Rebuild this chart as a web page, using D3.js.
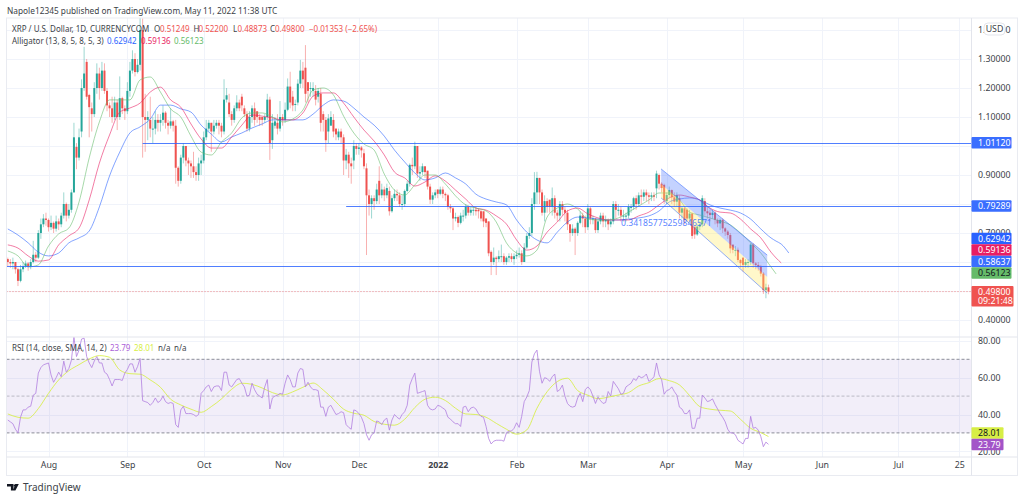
<!DOCTYPE html>
<html>
<head>
<meta charset="utf-8">
<script src="https://cdn.jsdelivr.net/npm/d3@7"></script>
<style>
  html, body { margin: 0; background: #fff; }
  svg { display: block; }
  text { font-family: "Noto Sans", sans-serif; }
</style>
</head>
<body>
<svg id="chart" width="1024" height="500"></svg>
<script>
// daily candles, 16 Jul 2021 to 11 May 2022
const firstDay = '2021-07-16'
const lastOnAxis = '2022-07-01'

const opens = [
  .610,.600,.595,.600,.575,.535,.575,.585,.595,.585,
  .600,.625,.615,.700,.730,.750,.745,.720,.735,.715,
  .740,.730,.760,.800,.760,.780,.840,.997,.960,1.05,
  1.20,1.29,1.176,1.13,1.11,1.20,1.25,1.20,1.26,1.19,
  1.14,1.13,1.10,1.15,1.10,1.165,1.13,1.12,1.19,1.26,
  1.30,1.255,1.28,1.40,1.10,1.09,1.09,1.06,1.06,1.09,
  1.08,1.09,1.115,1.08,1.07,1.085,1.07,.925,.88,.96,
  1.00,.95,.94,.93,.91,.90,.94,.95,1.03,1.06,
  1.08,1.05,1.07,1.08,1.07,1.05,1.16,1.15,1.11,1.09,
  1.13,1.15,1.17,1.13,1.11,1.06,1.10,1.13,1.12,1.10,
  1.10,1.09,1.10,1.16,1.02,1.07,1.08,1.06,1.10,1.09,
  1.125,1.205,1.17,1.145,1.15,1.215,1.26,1.27,1.22,1.20,
  1.19,1.19,1.17,1.18,1.11,1.09,1.05,1.07,1.09,1.06,
  1.03,1.05,1.03,.95,.97,.94,.95,1.00,.99,.995,
  .975,.923,.83,.80,.82,.81,.88,.83,.85,.83,
  .845,.775,.82,.835,.83,.80,.80,.845,.87,.935,
  .93,1.00,.905,.91,.93,.915,.86,.815,.83,.85,
  .835,.85,.835,.83,.79,.785,.75,.755,.735,.76,
  .76,.79,.77,.78,.78,.78,.775,.775,.75,.74,
  .635,.60,.615,.61,.62,.62,.60,.615,.62,.61,
  .62,.625,.63,.60,.65,.69,.70,.80,.84,.89,
  .84,.77,.81,.815,.79,.82,.77,.76,.80,.78,
  .77,.73,.70,.715,.70,.735,.76,.75,.72,.785,
  .75,.75,.71,.74,.76,.74,.745,.73,.74,.80,
  .78,.78,.76,.76,.76,.79,.79,.82,.80,.83,
  .825,.84,.83,.825,.83,.854,.90,.87,.866,.81,
  .831,.848,.823,.808,.82,.77,.785,.78,.75,.767,
  .722,.695,.722,.73,.81,.775,.77,.762,.77,.745,
  .733,.745,.716,.705,.693,.660,.642,.642,.607,.615,
  .59,.60,.60,.66,.595,.59,.584,.56,.503,.5125
]
const highs = [
  .615,.61,.615,.60,.58,.59,.60,.605,.60,.61,
  .673,.635,.71,.75,.765,.77,.75,.76,.74,.76,
  .75,.77,.84,.805,.80,.85,1.08,1.01,1.06,1.23,
  1.342,1.30,1.18,1.15,1.22,1.285,1.27,1.29,1.285,1.20,
  1.15,1.17,1.17,1.16,1.24,1.17,1.14,1.22,1.29,1.33,
  1.32,1.30,1.45,1.44,1.18,1.12,1.17,1.10,1.12,1.11,
  1.11,1.14,1.12,1.09,1.13,1.09,1.09,.93,.97,1.01,
  1.00,.96,.95,.98,.93,.96,.97,1.05,1.09,1.09,
  1.08,1.09,1.09,1.09,1.08,1.23,1.20,1.18,1.12,1.14,
  1.175,1.16,1.18,1.14,1.12,1.12,1.14,1.15,1.11,1.11,
  1.10,1.11,1.18,1.17,1.11,1.10,1.11,1.155,1.11,1.15,
  1.233,1.256,1.19,1.16,1.23,1.297,1.29,1.348,1.22,1.22,
  1.22,1.21,1.20,1.20,1.12,1.10,1.11,1.12,1.11,1.06,
  1.06,1.06,1.04,.99,.98,.96,1.02,1.01,1.01,1.00,
  .99,.94,.85,.83,.83,.87,.93,.87,.86,.87,
  .86,.83,.85,.85,.84,.83,.85,.88,.94,.96,
  1.015,1.00,.93,.94,.93,.91,.87,.84,.85,.85,
  .86,.86,.84,.835,.80,.79,.77,.76,.77,.78,
  .80,.795,.79,.79,.79,.785,.78,.76,.75,.74,
  .64,.65,.62,.64,.66,.63,.62,.63,.63,.63,
  .64,.65,.64,.665,.70,.72,.82,.91,.911,.89,
  .85,.83,.82,.81,.857,.83,.78,.81,.81,.79,
  .78,.73,.73,.72,.74,.775,.77,.76,.80,.79,
  .76,.75,.75,.77,.77,.76,.75,.75,.81,.81,
  .80,.79,.78,.77,.80,.80,.825,.83,.84,.85,
  .85,.85,.84,.84,.84,.915,.905,.875,.87,.84,
  .86,.85,.84,.84,.83,.79,.79,.785,.78,.77,
  .72,.73,.74,.83,.82,.79,.78,.78,.775,.75,
  .75,.75,.72,.71,.70,.655,.655,.65,.61,.615,
  .61,.61,.665,.665,.60,.60,.59,.565,.525,.522
]
const lows = [
  .585,.58,.575,.56,.517,.53,.565,.58,.57,.575,
  .595,.60,.61,.68,.72,.725,.705,.71,.70,.705,
  .71,.72,.75,.74,.75,.77,.84,.92,.95,1.03,
  1.19,1.16,1.03,1.05,1.10,1.18,1.16,1.19,1.18,1.12,
  1.10,1.08,1.09,1.055,1.09,1.11,1.09,1.11,1.17,1.25,
  1.24,1.25,1.26,.96,.98,1.02,1.03,1.01,1.04,1.05,
  1.05,1.07,1.06,1.04,1.06,1.05,.87,.86,.87,.94,
  .93,.90,.89,.89,.88,.88,.90,.94,1.02,1.05,
  .98,1.04,1.06,1.04,1.03,1.04,1.15,1.10,1.07,1.08,
  1.12,1.12,1.12,1.10,1.05,1.05,1.08,1.07,1.08,1.07,
  1.07,1.08,1.09,.952,.99,1.06,1.04,1.05,1.07,1.08,
  1.12,1.13,1.12,1.12,1.14,1.20,1.20,1.15,1.15,1.17,
  1.17,1.14,1.15,1.05,1.05,.98,1.01,1.08,1.03,1.02,
  1.02,1.01,.90,.92,.89,.87,.92,.97,.97,.96,
  .92,.624,.76,.75,.78,.80,.80,.82,.81,.82,
  .76,.77,.81,.81,.79,.78,.79,.84,.86,.90,
  .92,.89,.88,.90,.89,.85,.80,.80,.82,.82,
  .83,.82,.81,.78,.77,.71,.74,.72,.73,.74,
  .75,.76,.76,.76,.76,.75,.74,.72,.72,.62,
  .555,.59,.555,.60,.60,.59,.59,.60,.60,.59,
  .61,.615,.59,.60,.645,.68,.69,.78,.80,.80,
  .76,.74,.77,.77,.76,.75,.74,.74,.76,.74,
  .71,.67,.69,.624,.69,.73,.72,.70,.71,.73,
  .73,.70,.70,.73,.72,.72,.71,.72,.73,.75,
  .76,.74,.74,.74,.75,.77,.78,.78,.79,.80,
  .81,.81,.80,.81,.81,.82,.85,.84,.80,.80,
  .82,.80,.79,.79,.75,.75,.73,.74,.74,.68,
  .68,.69,.71,.72,.76,.75,.74,.75,.73,.72,
  .71,.70,.69,.68,.63,.63,.62,.60,.58,.567,
  .58,.58,.59,.58,.575,.57,.55,.49,.475,.48873
]
const closes = [
  .600,.595,.600,.575,.535,.575,.585,.595,.585,.600,
  .625,.615,.700,.730,.750,.745,.720,.735,.715,.740,
  .730,.760,.800,.760,.780,.840,1.03,.960,1.03,1.20,
  1.25,1.17,1.134,1.11,1.20,1.25,1.20,1.26,1.19,1.14,
  1.13,1.10,1.15,1.10,1.165,1.13,1.12,1.19,1.26,1.30,
  1.255,1.28,1.40,1.10,1.09,1.10,1.06,1.06,1.09,1.08,
  1.09,1.115,1.08,1.07,1.085,1.07,.925,.88,.96,1.00,
  .95,.94,.93,.91,.90,.94,.95,1.03,1.06,1.08,
  1.05,1.07,1.08,1.07,1.05,1.16,1.175,1.11,1.09,1.13,
  1.15,1.13,1.14,1.11,1.06,1.10,1.13,1.09,1.10,1.09,
  1.09,1.10,1.16,1.01,1.08,1.085,1.06,1.10,1.09,1.125,
  1.205,1.15,1.14,1.145,1.215,1.26,1.23,1.18,1.19,1.20,
  1.20,1.16,1.19,1.08,1.09,1.02,1.095,1.10,1.05,1.04,
  1.05,1.03,.95,.97,.94,.93,1.00,.99,.995,.985,
  .93,.83,.80,.82,.81,.85,.83,.85,.83,.855,
  .775,.82,.835,.83,.80,.80,.845,.87,.935,.93,
  1.00,.905,.91,.93,.91,.86,.815,.83,.84,.835,
  .85,.835,.83,.79,.785,.75,.755,.735,.76,.76,
  .79,.77,.78,.78,.775,.775,.75,.74,.735,.63,
  .60,.615,.61,.62,.62,.60,.615,.62,.61,.62,
  .625,.63,.60,.65,.69,.70,.80,.84,.89,.84,
  .77,.81,.79,.79,.82,.77,.76,.80,.78,.77,
  .73,.70,.715,.70,.735,.76,.75,.72,.785,.75,
  .75,.71,.74,.76,.74,.745,.73,.74,.80,.78,
  .78,.76,.76,.76,.79,.79,.82,.80,.83,.825,
  .84,.83,.825,.83,.825,.905,.87,.855,.814,.831,
  .848,.823,.808,.83,.77,.785,.745,.75,.767,.69,
  .695,.722,.73,.82,.775,.768,.762,.77,.745,.733,
  .745,.716,.705,.693,.647,.642,.642,.607,.596,.59,
  .60,.60,.66,.596,.59,.584,.56,.503,.5125,.498
]

// alligator lines, read every four days and at the ends
const alligatorDays = [
  0,4,8,12,16,20,24,28,32,36,40,44,48,52,56,60,64,68,72,76,
  80,84,88,92,96,100,104,108,112,116,120,124,128,132,136,140,144,148,152,156,
  160,164,168,172,176,180,184,188,192,196,200,204,208,212,216,220,224,228,232,236,
  240,244,248,252,256,260,264,268,272,276,280,284,288,292,296,300,302,304,307
]
const jaw = [
  .714,.693,.666,.634,.621,.631,.666,.683,.707,.790,.897,.979,1.045,1.066,1.093,1.141,1.141,1.128,1.117,1.072,
  1.041,1.014,1.031,1.045,1.062,1.076,1.090,1.090,1.090,1.090,1.110,1.141,1.159,1.155,1.131,1.100,1.072,1.034,.986,.945,
  .907,.883,.890,.907,.890,.869,.834,.817,.807,.797,.745,.703,.676,.666,.703,.738,.755,.752,.748,.745,
  .745,.748,.752,.759,.776,.807,.817,.821,.814,.797,.786,.779,.769,.748,.714,.683,.672,.662,.631
]
const teeth = [
  .659,.648,.621,.603,.607,.659,.690,.717,.814,.941,1.038,1.117,1.131,1.148,1.186,1.203,1.159,1.134,1.076,1.024,
  .993,.993,1.031,1.072,1.107,1.103,1.097,1.090,1.090,1.114,1.172,1.183,1.183,1.148,1.100,1.055,1.017,.969,.910,.890,
  .862,.876,.897,.879,.848,.817,.786,.779,.759,.731,.676,.641,.655,.703,.738,.776,.786,.766,.752,.745,
  .745,.745,.759,.772,.797,.821,.831,.824,.814,.786,.772,.769,.748,.714,.683,.634,.614,.597
]
const lips = [
  .638,.621,.583,.590,.655,.697,.717,.807,.959,1.083,1.159,1.159,1.159,1.228,1.238,1.186,1.128,1.100,1.034,.979,
  .969,1.014,1.045,1.097,1.114,1.114,1.100,1.083,1.093,1.124,1.193,1.200,1.176,1.103,1.045,1.007,.986,.903,.848,.831,
  .866,.900,.900,.869,.828,.797,.786,.776,.738,.666,.631,.621,.641,.755,.786,.800,.783,.748,.745,.745,
  .752,.772,.793,.814,.838,.838,.814,.772,.762,.752,.741,.728,.700,.666,.631,.583,.559
]

const rsi = [
  37,36,35,32,30,38.5,42.5,42.5,44,44.5,50.5,51.5,62.5,65.5,67,67.5,68,61.5,57.5,60,
  63,60.5,69,63,65,69.5,82,71.5,75,81,81.5,71.5,68,65.5,69,71.5,68,68,63,62,
  59,55.5,59,59,59,58.5,62.5,64.5,67.5,67.5,63,66,70.5,47.5,47,46.5,45,46.5,49,46.5,
  47.5,50,47,46,46.5,46,34.5,33,42.5,44.5,40.5,40.5,40.5,40,39,40,51.5,53,55,56,
  52.5,55,55.5,55.5,53,63,63,56,55,57,59,59.5,57,55,50,50.5,57,53.5,51,50,
  49,55,59,43,49,50,50.5,51.5,51,57,61.5,59,55,55,62.5,65,64.5,55,57.5,55,
  53.5,53.5,53,44,44,39,44,45,42.5,40,40.5,41.5,41,34.5,33,32,42.5,42,40.5,38.5,
  35,29,26,29,30,36.5,36,34.5,37,38,31.5,37,40,38.5,37.5,40,41.5,45,56,59.5,
  62.5,51.5,52,52.5,53,45,43,42.5,43,45,44.5,43.5,42.5,38.5,37.5,36,35,35,33.5,44,
  44.5,41.5,43.5,44,43,40.5,39,38.5,33.5,27,24,25.5,26,26,26,25.5,30,31,31,32.5,
  35.5,33,39,47,49.5,53,68.5,73,75,63.5,57,60,59.5,58,60.5,62,52.5,53.5,56,50,
  46,44.5,44,44.5,49,51.5,47,53.5,55,53.5,50,46,49.5,47.5,46,46.5,52.5,50,58,56,
  54,51,51.5,55,56,57,59.5,58.5,61,60,60.5,62,58,59,60.5,68,61.5,59,51,53,
  53.5,55,52.5,50.5,44,43,40.5,40.5,42.5,32.5,32.5,38,38,50.5,49,47,47.5,48.5,45.5,43,
  40.5,38.5,36,32,30,30,29,26,25,24,27,27,39,32.5,33,31.5,28,22.5,25,23.79
]
// RSI moving average, read every four days and at the last day
const rsiMaDays = [
  0,4,8,12,16,20,24,28,32,36,40,44,48,52,56,60,64,68,72,76,
  80,84,88,92,96,100,104,108,112,116,120,124,128,132,136,140,144,148,152,156,
  160,164,168,172,176,180,184,188,192,196,200,204,208,212,216,220,224,228,232,236,
  240,244,248,252,256,260,264,268,272,276,280,284,288,292,296,299
]
const rsiMa = [
  40.3,38.5,38,43.2,51.5,58.8,63.8,67.1,70.2,72,71.1,64.2,62.2,61.9,58.8,54.8,48.3,45.2,42.9,41.2,
  44.3,48.5,53.7,57,56.4,54.4,51.9,50.6,52.3,54.8,57.1,53.3,48.3,42.9,40.7,39.6,36.2,34.7,34.2,37.4,
  43.8,48.3,49.4,47.6,43.4,40.3,40,38.5,35.2,32,29.3,31.6,43.4,52.4,57.9,59.7,53,50.5,48.6,49.4,
  50.6,51.9,55.5,57.3,59.5,58.4,56.1,50.3,44.3,42.9,42.3,41.9,37.4,32.5,30.2,28.01
]

// drawn levels and the falling channel
const levelValues = [1.0112, .79289, .58637]
const levelFromDay = [53, 133, 0]
const channelDays = [256.8, 298.5]
const channelTop = [.921, .624]
const channelMid = [.869, .548]
const channelBottom = [.821, .493]

const priceTicks = [1.4, 1.3, 1.2, 1.1, 1.0, .9, .8, .7, .6, .5, .4]
// these tick labels sit fully behind the stacked value labels
const hiddenPriceTicks = [1.0, .8, .6, .5]
const rsiTicks = [80, 60, 40, 20]
const rsiBands = [70, 50, 30]
const timeTicks = ['2021-08-01','2021-09-01','2021-10-01','2021-11-01','2021-12-01','2022-01-01','2022-02-01','2022-03-01','2022-04-01','2022-05-01','2022-06-01','2022-07-01','2022-07-25']
const timeLabels = ['Aug','Sep','Oct','Nov','Dec','2022','Feb','Mar','Apr','May','Jun','Jul','25']

const up = '#26a69a'
const down = '#ef5350'
const blue = '#2962ff'
const pink = '#e91e63'
const green = '#66bb6a'
const purple = '#ab62d8'
const yellow = '#d7ee45'
const gridColor = '#f0f3fa'
const textColor = '#3c3f48'
const fontSize = 8.8
const legendSize = 8

const frame = { left: 6.5, right: 1017.5, top: 18, bottom: 475.5, axis: 971.5, split: 337, time: 457 }

const svg = d3.select('#chart')
const start = d3.isoParse(firstDay)
const x = d3.scaleUtc()
  .domain([start, d3.isoParse(lastOnAxis)])
  .range([7.8, 898.2])
const xDay = i => x(new Date(+start + i * 864e5))
const yPrice = d3.scaleLinear().domain([.3414, 1.4414]).range([337, 18])
const yRsi = d3.scaleLinear().domain([20, 80]).range([451.3, 340.9])

const defs = svg.append('defs')
defs.append('clipPath').attr('id', 'price-clip').append('rect')
  .attr('x', frame.left).attr('y', frame.top).attr('width', frame.axis - frame.left).attr('height', frame.split - frame.top)
defs.append('clipPath').attr('id', 'rsi-clip').append('rect')
  .attr('x', frame.left).attr('y', frame.split).attr('width', frame.axis - frame.left).attr('height', frame.time - frame.split)

// grid
const grid = svg.append('g').attr('stroke', gridColor).attr('stroke-width', 1)
timeTicks.forEach(t => {
  const px = Math.round(x(d3.isoParse(t))) + .5
  grid.append('line').attr('x1', px).attr('x2', px).attr('y1', frame.top).attr('y2', frame.split)
  grid.append('line').attr('x1', px).attr('x2', px).attr('y1', frame.split).attr('y2', frame.time)
})
priceTicks.forEach(t => {
  const py = Math.round(yPrice(t)) + .5
  grid.append('line').attr('x1', frame.left).attr('x2', frame.axis).attr('y1', py).attr('y2', py)
})
rsiTicks.forEach(t => {
  const py = Math.round(yRsi(t)) + .5
  grid.append('line').attr('x1', frame.left).attr('x2', frame.axis).attr('y1', py).attr('y2', py)
})

// price pane: candles first, indicator and drawings sit on top of them
const pricePane = svg.append('g').attr('clip-path', 'url(#price-clip)')

pricePane.append('line')
  .attr('x1', frame.left).attr('x2', frame.axis)
  .attr('y1', yPrice(closes[closes.length - 1])).attr('y2', yPrice(closes[closes.length - 1]))
  .attr('stroke', down).attr('stroke-opacity', .7).attr('stroke-width', 1).attr('stroke-dasharray', '1 2')

const days = d3.range(closes.length)
pricePane.append('g').selectAll('line').data(days).join('line')
  .attr('x1', d => xDay(d)).attr('x2', d => xDay(d))
  .attr('y1', d => yPrice(highs[d])).attr('y2', d => yPrice(lows[d]))
  .attr('stroke', d => closes[d] >= opens[d] ? up : down)
  .attr('stroke-opacity', .45)
  .attr('stroke-width', 1)
pricePane.append('g').selectAll('rect').data(days).join('rect')
  .attr('x', d => xDay(d) - 1)
  .attr('width', 2)
  .attr('y', d => yPrice(Math.max(opens[d], closes[d])))
  .attr('height', d => Math.max(1, Math.abs(yPrice(opens[d]) - yPrice(closes[d]))))
  .attr('fill', d => closes[d] >= opens[d] ? up : down)

const priceLine = vals => d3.line()
  .x((d, i) => xDay(alligatorDays[i]))
  .y(d => yPrice(d))
  .curve(d3.curveMonotoneX)(vals)
;[[jaw, blue], [teeth, pink], [lips, green]].forEach(([vals, color]) => {
  pricePane.append('path').attr('d', priceLine(vals)).attr('fill', 'none')
    .attr('stroke', color).attr('stroke-opacity', .58).attr('stroke-width', 1)
})

const channelArea = (a, b) => d3.area()
  .x(d => xDay(d))
  .y0((d, i) => yPrice(b[i]))
  .y1((d, i) => yPrice(a[i]))(channelDays)
pricePane.append('path').attr('d', channelArea(channelTop, channelMid)).attr('fill', '#5b82ff').attr('fill-opacity', .36)
pricePane.append('path').attr('d', channelArea(channelMid, channelBottom)).attr('fill', '#ffeb6b').attr('fill-opacity', .36)
const channelLine = vals => d3.line().x(d => xDay(d)).y((d, i) => yPrice(vals[i]))(channelDays)
;[channelTop, channelBottom].forEach(vals => {
  pricePane.append('path').attr('d', channelLine(vals)).attr('fill', 'none').attr('stroke', blue).attr('stroke-opacity', .5).attr('stroke-width', 1)
})

levelValues.forEach((v, i) => {
  const py = Math.round(yPrice(v)) + .5
  pricePane.append('line')
    .attr('x1', xDay(levelFromDay[i]) - (levelFromDay[i] ? 0 : 2)).attr('x2', frame.axis)
    .attr('y1', py).attr('y2', py)
    .attr('stroke', blue).attr('stroke-opacity', .82).attr('stroke-width', 1)
})

pricePane.append('text')
  .attr('x', 621).attr('y', yPrice(.7255))
  .attr('fill', blue).attr('fill-opacity', .8).attr('font-size', 8.6)
  .text('0.34185775259846571')

// RSI pane
const rsiPane = svg.append('g').attr('clip-path', 'url(#rsi-clip)')
rsiPane.append('rect')
  .attr('x', frame.left).attr('width', frame.axis - frame.left)
  .attr('y', yRsi(rsiBands[0])).attr('height', yRsi(rsiBands[2]) - yRsi(rsiBands[0]))
  .attr('fill', '#7e57c2').attr('fill-opacity', .1)
rsiBands.forEach((b, i) => {
  rsiPane.append('line')
    .attr('x1', frame.left).attr('x2', frame.axis)
    .attr('y1', yRsi(b)).attr('y2', yRsi(b))
    .attr('stroke', '#787b86').attr('stroke-opacity', i === 1 ? .45 : .85)
    .attr('stroke-dasharray', '3 2').attr('stroke-width', 1)
})
rsiPane.append('path')
  .attr('d', d3.line().x((d, i) => xDay(rsiMaDays[i])).y(d => yRsi(d)).curve(d3.curveMonotoneX)(rsiMa))
  .attr('fill', 'none').attr('stroke', yellow).attr('stroke-opacity', .85).attr('stroke-width', 1)
rsiPane.append('path')
  .attr('d', d3.line().x((d, i) => xDay(i)).y(d => yRsi(d))(rsi))
  .attr('fill', 'none').attr('stroke', '#b27fe0').attr('stroke-opacity', .8).attr('stroke-width', 1)

// frame
svg.append('rect')
  .attr('x', frame.left).attr('y', frame.top)
  .attr('width', frame.right - frame.left).attr('height', frame.bottom - frame.top)
  .attr('fill', 'none').attr('stroke', '#e9ebf1').attr('stroke-width', 1)
;[[frame.left, frame.right, frame.split, frame.split], [frame.left, frame.right, frame.time, frame.time], [frame.axis, frame.axis, frame.top, frame.bottom]].forEach(s => {
  svg.append('line').attr('x1', s[0]).attr('x2', s[1]).attr('y1', s[2]).attr('y2', s[3])
    .attr('stroke', '#e3e5ec').attr('stroke-width', 1)
})

// axes
const styleAxis = g => {
  g.select('.domain').remove()
  g.selectAll('.tick line').remove()
  g.selectAll('text').attr('fill', textColor).attr('font-size', fontSize).attr('font-family', '"Noto Sans", sans-serif')
}
svg.append('g')
  .attr('transform', `translate(${frame.axis},0)`)
  .call(d3.axisRight(yPrice).tickValues(priceTicks.filter(t => !hiddenPriceTicks.includes(t))).tickFormat(d3.format('.5f')).tickSize(0).tickPadding(6.5))
  .call(styleAxis)
svg.append('g')
  .attr('transform', `translate(${frame.axis},0)`)
  .call(d3.axisRight(yRsi).tickValues(rsiTicks).tickFormat(d3.format('.2f')).tickSize(0).tickPadding(6.5))
  .call(styleAxis)
svg.append('g')
  .attr('transform', `translate(0,${frame.time})`)
  .call(d3.axisBottom(x).tickValues(timeTicks.map(d3.isoParse)).tickFormat((d, i) => timeLabels[i]).tickSize(0).tickPadding(5))
  .call(styleAxis)
  .selectAll('text').attr('font-weight', (d, i) => timeLabels[i] === '2022' ? 700 : 400)

// USD chip covers the top price label
svg.append('rect').attr('x', 984).attr('y', 23).attr('width', 21).attr('height', 12).attr('rx', 4)
  .attr('fill', '#fff').attr('stroke', '#e3e5ec')
svg.append('text').attr('x', 994.5).attr('y', 32).attr('text-anchor', 'middle')
  .attr('font-size', fontSize).attr('fill', textColor).text('USD')

// price labels on the right axis, stacked so they do not cover one another
const axisLabel = (text, py, bg, fg, w = 40) => {
  svg.append('rect').attr('x', frame.axis).attr('y', py - 5.7).attr('width', w).attr('height', 11.4).attr('rx', 1).attr('fill', bg)
  svg.append('text').attr('x', frame.axis + 6.5).attr('y', py + 3.1).attr('font-size', fontSize).attr('fill', fg).text(text)
}
axisLabel('1.01120', yPrice(levelValues[0]), '#3a6eff', '#fff')
axisLabel('0.79289', yPrice(levelValues[1]), '#3a6eff', '#fff')
axisLabel('0.62942', 238.5, blue, '#fff')
axisLabel('0.59136', 250, pink, '#fff')
axisLabel('0.58637', 261.5, '#3a6eff', '#fff')
axisLabel('0.56123', 273, green, '#131722')
svg.append('rect').attr('x', frame.axis).attr('y', 286).attr('width', 42).attr('height', 20.5).attr('rx', 1).attr('fill', down)
svg.append('text').attr('x', frame.axis + 6.5).attr('y', 294.5).attr('font-size', fontSize).attr('fill', '#fff').text('0.49800')
svg.append('text').attr('x', frame.axis + 6.5).attr('y', 304).attr('font-size', fontSize).attr('fill', '#fff').text('09:21:48')
axisLabel('28.01', 433, yellow, '#131722', 32)
axisLabel('23.79', 444.5, '#a354c8', '#fff', 32)

// legends
const label = (str, px, py, fill, size = legendSize) =>
  svg.append('text').attr('x', px).attr('y', py).attr('font-size', size).attr('fill', fill).text(str)

label('Napole12345 published on TradingView.com, May 11, 2022 11:38 UTC', 7, 13.5, textColor, 8.3)
label('XRP / U.S. Dollar, 1D, CURRENCYCOM', 12, 32, textColor)
label('O', 154, 32, textColor)
label('0.51249', 160, 32, down)
label('H', 193.5, 32, textColor)
label('0.52200', 198.5, 32, down)
label('L', 233, 32, textColor)
label('0.48873', 237.5, 32, down)
label('C', 270, 32, textColor)
label('0.49800', 275, 32, down)
label('−0.01353 (−2.65%)', 309, 32, down)
label('Alligator (13, 8, 5, 8, 5, 3)', 12, 44, textColor)
label('0.62942', 107, 44, blue)
label('0.59136', 141, 44, pink)
label('0.56123', 174, 44, green)
label('RSI (14, close, SMA, 14, 2)', 12, 351, textColor)
label('23.79', 110, 351, purple)
label('28.01', 134, 351, yellow)
label('n/a', 158, 351, textColor)
label('n/a', 174, 351, textColor)

// TradingView mark and name
svg.append('path')
  .attr('d', 'M7 484h6.5v6.5h-2.6v-3.9H7z M15.2 484h3.6l-3.4 6.5h-2.2z')
  .attr('fill', '#131722')
svg.append('circle').attr('cx', 14.6).attr('cy', 485.4).attr('r', 1).attr('fill', '#131722')
label('TradingView', 23, 491, textColor, 10)
</script>
</body>
</html>
